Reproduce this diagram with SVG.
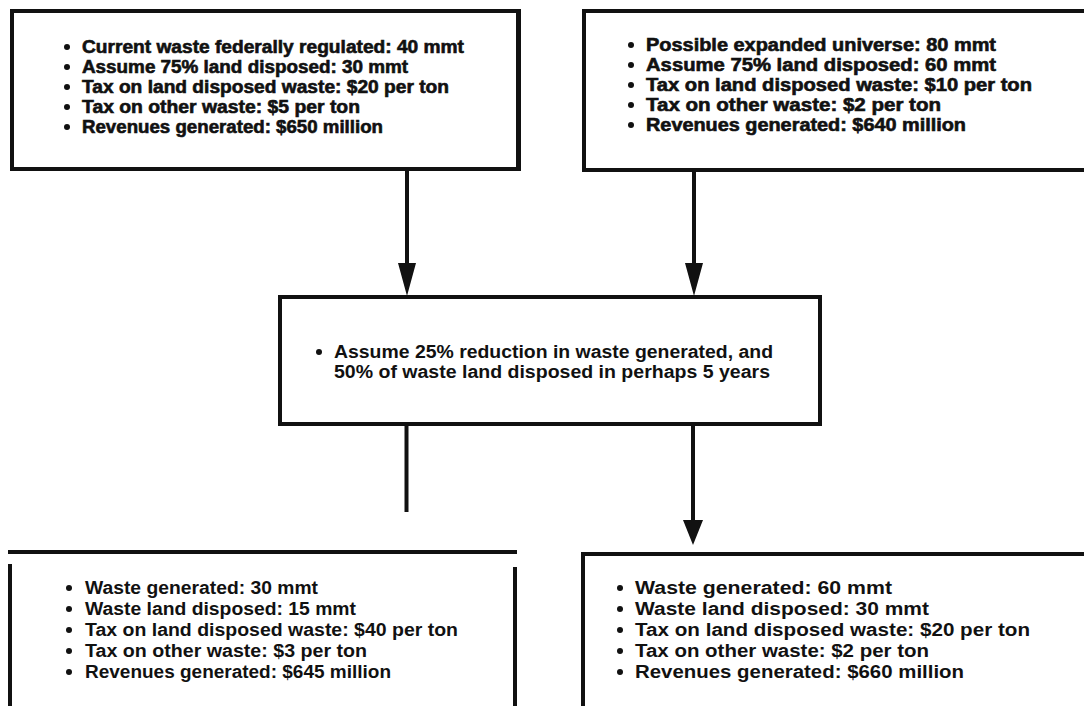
<svg xmlns="http://www.w3.org/2000/svg" width="1084" height="706" viewBox="0 0 1084 706">
  <style>
    .box { fill: none; stroke: #111; stroke-width: 4; stroke-linecap: square; }
    .edge { fill: none; stroke: #111; stroke-width: 4; }
    .head { fill: #111; stroke: none; }
    .dot { fill: #111; }
    .t { font-family: "Liberation Sans", Arial, Helvetica, sans-serif; font-size: 18px; font-weight: bold; fill: #111; }
    .heavy { stroke: #111; stroke-width: 0.6; }
  </style>
  <rect width="1084" height="706" fill="#fff"/>

  <!-- Current federally regulated waste -->
  <g id="current-universe">
    <rect class="box" x="12" y="11" width="506" height="158"/>
    <line class="box" x1="519" y1="11" x2="519" y2="169" stroke-width="6"/>
    <g class="dot">
      <circle cx="67" cy="47" r="3"/><circle cx="67" cy="67" r="3"/><circle cx="67" cy="87" r="3"/>
      <circle cx="67" cy="107" r="3"/><circle cx="67" cy="127" r="3"/>
    </g>
    <g class="t heavy">
      <text x="82" y="53" textLength="382" lengthAdjust="spacingAndGlyphs">Current waste federally regulated: 40 mmt</text>
      <text x="82" y="73" textLength="326" lengthAdjust="spacingAndGlyphs">Assume 75% land disposed: 30 mmt</text>
      <text x="82" y="93" textLength="367" lengthAdjust="spacingAndGlyphs">Tax on land disposed waste: $20 per ton</text>
      <text x="82" y="113" textLength="278" lengthAdjust="spacingAndGlyphs">Tax on other waste: $5 per ton</text>
      <text x="82" y="133" textLength="301" lengthAdjust="spacingAndGlyphs">Revenues generated: $650 million</text>
    </g>
  </g>

  <!-- Possible expanded universe -->
  <g id="expanded-universe">
    <rect class="box" x="584" y="11" width="510" height="159"/>
    <g class="dot">
      <circle cx="631" cy="45" r="3"/><circle cx="631" cy="65" r="3"/><circle cx="631" cy="85" r="3"/>
      <circle cx="631" cy="105" r="3"/><circle cx="631" cy="125" r="3"/>
    </g>
    <g class="t heavy">
      <text x="646" y="51" textLength="350" lengthAdjust="spacingAndGlyphs">Possible expanded universe: 80 mmt</text>
      <text x="646" y="71" textLength="350" lengthAdjust="spacingAndGlyphs">Assume 75% land disposed: 60 mmt</text>
      <text x="646" y="91" textLength="386" lengthAdjust="spacingAndGlyphs">Tax on land disposed waste: $10 per ton</text>
      <text x="646" y="111" textLength="295" lengthAdjust="spacingAndGlyphs">Tax on other waste: $2 per ton</text>
      <text x="646" y="131" textLength="320" lengthAdjust="spacingAndGlyphs">Revenues generated: $640 million</text>
    </g>
  </g>

  <!-- Reduction assumption -->
  <g id="reduction">
    <rect class="box" x="280" y="297" width="540" height="127"/>
    <line class="box" x1="820" y1="297" x2="820" y2="424" stroke-width="6"/>
    <circle class="dot" cx="319" cy="352" r="3"/>
    <g class="t">
      <text x="334" y="358" textLength="439" lengthAdjust="spacingAndGlyphs">Assume 25% reduction in waste generated, and</text>
      <text x="334" y="378" textLength="436" lengthAdjust="spacingAndGlyphs">50% of waste land disposed in perhaps 5 years</text>
    </g>
  </g>

  <!-- Outcome for current universe -->
  <g id="current-outcome">
    <line class="box" x1="10" y1="552" x2="515" y2="552"/>
    <line class="box" x1="10" y1="566" x2="10" y2="710"/>
    <line class="box" x1="515" y1="569" x2="515" y2="710"/>
    <g class="dot">
      <circle cx="69" cy="588" r="3"/><circle cx="69" cy="609" r="3"/><circle cx="69" cy="630" r="3"/>
      <circle cx="69" cy="651" r="3"/><circle cx="69" cy="672" r="3"/>
    </g>
    <g class="t">
      <text x="85" y="594" textLength="233" lengthAdjust="spacingAndGlyphs">Waste generated: 30 mmt</text>
      <text x="85" y="615" textLength="271" lengthAdjust="spacingAndGlyphs">Waste land disposed: 15 mmt</text>
      <text x="85" y="636" textLength="373" lengthAdjust="spacingAndGlyphs">Tax on land disposed waste: $40 per ton</text>
      <text x="85" y="657" textLength="282" lengthAdjust="spacingAndGlyphs">Tax on other waste: $3 per ton</text>
      <text x="85" y="678" textLength="306" lengthAdjust="spacingAndGlyphs">Revenues generated: $645 million</text>
    </g>
  </g>

  <!-- Outcome for expanded universe -->
  <g id="expanded-outcome">
    <path class="box" d="M583,710 V554 H1090"/>
    <g class="dot">
      <circle cx="620" cy="588" r="3"/><circle cx="620" cy="609" r="3"/><circle cx="620" cy="630" r="3"/>
      <circle cx="620" cy="651" r="3"/><circle cx="620" cy="672" r="3"/>
    </g>
    <g class="t">
      <text x="635" y="594" textLength="257" lengthAdjust="spacingAndGlyphs">Waste generated: 60 mmt</text>
      <text x="635" y="615" textLength="294" lengthAdjust="spacingAndGlyphs">Waste land disposed: 30 mmt</text>
      <text x="635" y="636" textLength="395" lengthAdjust="spacingAndGlyphs">Tax on land disposed waste: $20 per ton</text>
      <text x="635" y="657" textLength="294" lengthAdjust="spacingAndGlyphs">Tax on other waste: $2 per ton</text>
      <text x="635" y="678" textLength="329" lengthAdjust="spacingAndGlyphs">Revenues generated: $660 million</text>
    </g>
  </g>

  <!-- Connectors -->
  <g id="connectors">
    <line class="edge" x1="407" y1="169" x2="407" y2="265"/>
    <polygon class="head" points="398,263 416,263 407,296"/>
    <line class="edge" x1="694" y1="170" x2="694" y2="265"/>
    <polygon class="head" points="685,263 703,263 694,296"/>
    <line class="edge" x1="406.5" y1="424" x2="406.5" y2="512"/>
    <line class="edge" x1="693" y1="424" x2="693" y2="522"/>
    <polygon class="head" points="683,520 703,520 693,545"/>
  </g>
</svg>
